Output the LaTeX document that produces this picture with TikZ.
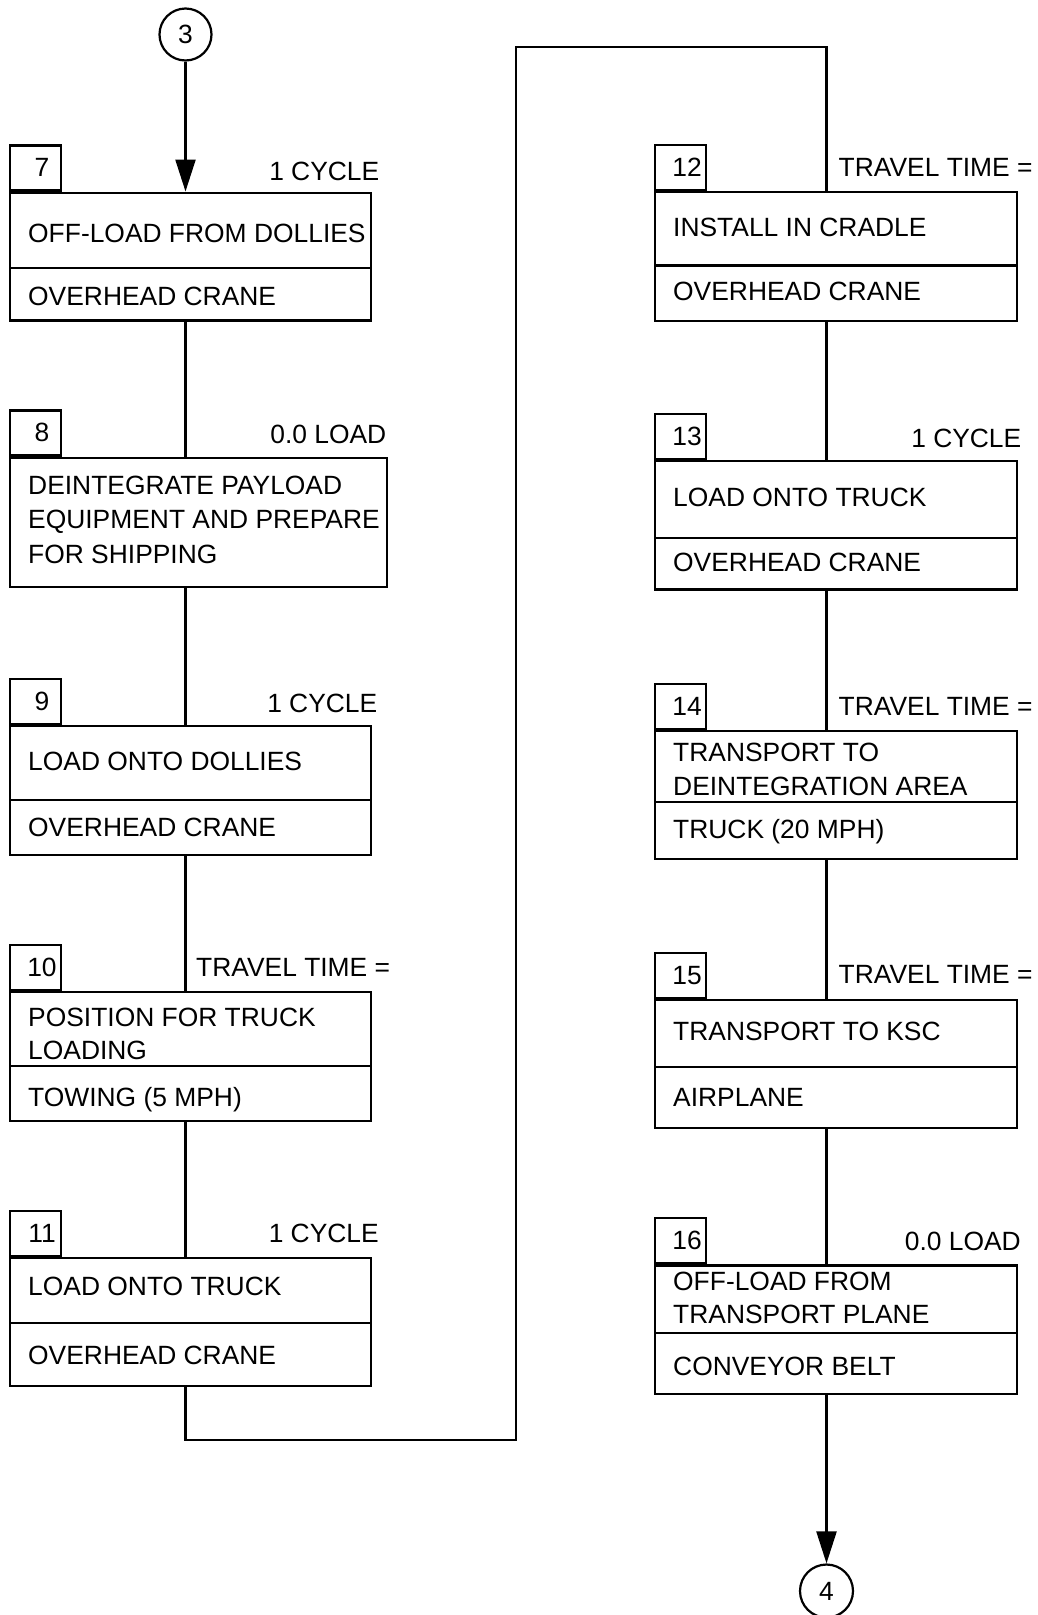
\documentclass[tikz,border=0pt]{standalone}
\usepackage{fontspec}
\setmainfont{Liberation Sans}
\usetikzlibrary{arrows.meta}
\tikzset{
  line/.style={line width=2.3pt},
  box/.style={draw, line width=2.3pt, inner sep=0pt},
  txt/.style={inner sep=0pt, font=\fontsize{26.4}{32}\selectfont},
  conn/.style={circle, draw, line width=2.2pt, minimum size=52pt, inner sep=0pt, font=\fontsize{26.4}{32}\selectfont},
  arr/.style={line width=2.3pt, -{Triangle[length=32pt,width=20pt]}}
}
% #1 name, #2 number, #3 x left, #4 top, #5 bottom, #6 width
\newcommand\flowstep[6]{%
  \node[box, anchor=north west, minimum width=#6pt, minimum height=#5pt-#4pt] (#1) at (#3,#4) {};
  \node[box, anchor=south west, minimum width=51pt, minimum height=45pt] (#1n) at (#1.north west) {};
  \node[txt, anchor=base] (#1k) at ([xshift=33pt,yshift=15pt]#1.north west) {#2};
}
\newcommand\flowdiv[2]{%
  \draw[line] (#1.west |- 0,#2) -- (#1.east |- 0,#2);
}
\begin{document}
\begin{tikzpicture}[x=1pt,y=-1pt]
\useasboundingbox (0,0) rectangle (1037,1615);

% connector circles
\node[conn] (c3) at (185.5,34.5) {3};
\node[conn, minimum size=53pt] (c4) at (826.5,1591) {4};

% left column
\flowstep{b7}{7}{9}{191.5}{319.3}{361}
\flowdiv{b7}{267.7}
\node[txt, anchor=base west] (b7a) at (28,242) {OFF-LOAD FROM DOLLIES};
\node[txt, anchor=base west] (b7b) at (28,305) {OVERHEAD CRANE};
\node[txt, anchor=base east] (b7l) at (379.5,180) {1 CYCLE};

\flowstep{b8}{8}{9}{456.7}{585.5}{377}
\node[txt, anchor=base west] (b8a) at (28,494.3) {DEINTEGRATE PAYLOAD};
\node[txt, anchor=base west] (b8b) at (28,528.3) {EQUIPMENT AND PREPARE};
\node[txt, anchor=base west] (b8c) at (28,563.3) {FOR SHIPPING};
\node[txt, anchor=base east] (b8l) at (386.5,443) {0.0 LOAD};

\flowstep{b9}{9}{9}{725}{854}{361}
\flowdiv{b9}{800}
\node[txt, anchor=base west] (b9a) at (28,770) {LOAD ONTO DOLLIES};
\node[txt, anchor=base west] (b9b) at (28,836) {OVERHEAD CRANE};
\node[txt, anchor=base east] (b9l) at (377.5,712.7) {1 CYCLE};

\flowstep{b10}{10}{9}{991}{1120}{361}
\flowdiv{b10}{1065.7}
\node[txt, anchor=base west] (b10a) at (28,1026) {POSITION FOR TRUCK};
\node[txt, anchor=base west] (b10b) at (28,1059.3) {LOADING};
\node[txt, anchor=base west] (b10c) at (28,1106) {TOWING (5 MPH)};
\node[txt, anchor=base west] (b10l) at (196,976) {TRAVEL TIME =};

\flowstep{b11}{11}{9}{1257}{1385}{361}
\flowdiv{b11}{1323.3}
\node[txt, anchor=base west] (b11a) at (28,1295.7) {LOAD ONTO TRUCK};
\node[txt, anchor=base west] (b11b) at (28,1364.3) {OVERHEAD CRANE};
\node[txt, anchor=base east] (b11l) at (379,1242.7) {1 CYCLE};

% right column
\flowstep{b12}{12}{654}{191}{320}{361.7}
\flowdiv{b12}{265.5}
\node[txt, anchor=base west] (b12a) at (673,236.7) {INSTALL IN CRADLE};
\node[txt, anchor=base west] (b12b) at (673,300) {OVERHEAD CRANE};
\node[txt, anchor=base west] (b12l) at (838.5,176.7) {TRAVEL TIME =};

\flowstep{b13}{13}{654}{460}{588.3}{361.7}
\flowdiv{b13}{537.7}
\node[txt, anchor=base west] (b13a) at (673,506.7) {LOAD ONTO TRUCK};
\node[txt, anchor=base west] (b13b) at (673,571.7) {OVERHEAD CRANE};
\node[txt, anchor=base east] (b13l) at (1021.5,447.7) {1 CYCLE};

\flowstep{b14}{14}{654}{730}{858}{361.7}
\flowdiv{b14}{802}
\node[txt, anchor=base west] (b14a) at (673,761.7) {TRANSPORT TO};
\node[txt, anchor=base west] (b14b) at (673,795) {DEINTEGRATION AREA};
\node[txt, anchor=base west] (b14c) at (673,838.3) {TRUCK (20 MPH)};
\node[txt, anchor=base west] (b14l) at (838.5,715) {TRAVEL TIME =};

\flowstep{b15}{15}{654}{999}{1126.7}{361.7}
\flowdiv{b15}{1067.3}
\node[txt, anchor=base west] (b15a) at (673,1040) {TRANSPORT TO KSC};
\node[txt, anchor=base west] (b15b) at (673,1106.7) {AIRPLANE};
\node[txt, anchor=base west] (b15l) at (838.5,983.3) {TRAVEL TIME =};

\flowstep{b16}{16}{654}{1264.3}{1392.7}{361.7}
\flowdiv{b16}{1333.3}
\node[txt, anchor=base west] (b16a) at (673,1290.7) {OFF-LOAD FROM};
\node[txt, anchor=base west] (b16b) at (673,1323.3) {TRANSPORT PLANE};
\node[txt, anchor=base west] (b16c) at (673,1375) {CONVEYOR BELT};
\node[txt, anchor=base east] (b16l) at (1021,1250) {0.0 LOAD};

% connectors
\coordinate (j1) at (516,1440);
\coordinate (j2) at (516,47.3);
\draw[arr] (c3.south) -- (c3 |- b7.north);
\draw[line] (c3 |- b7.south) -- (c3 |- b8.north);
\draw[line] (c3 |- b8.south) -- (c3 |- b9.north);
\draw[line] (c3 |- b9.south) -- (c3 |- b10.north);
\draw[line] (c3 |- b10.south) -- (c3 |- b11.north);
\draw[line] (c3 |- b11.south) |- (j1) -- (j2) -| (c4 |- b12.north);
\draw[line] (c4 |- b12.south) -- (c4 |- b13.north);
\draw[line] (c4 |- b13.south) -- (c4 |- b14.north);
\draw[line] (c4 |- b14.south) -- (c4 |- b15.north);
\draw[line] (c4 |- b15.south) -- (c4 |- b16.north);
\draw[arr] (c4 |- b16.south) -- (c4.north);
\end{tikzpicture}
\end{document}
